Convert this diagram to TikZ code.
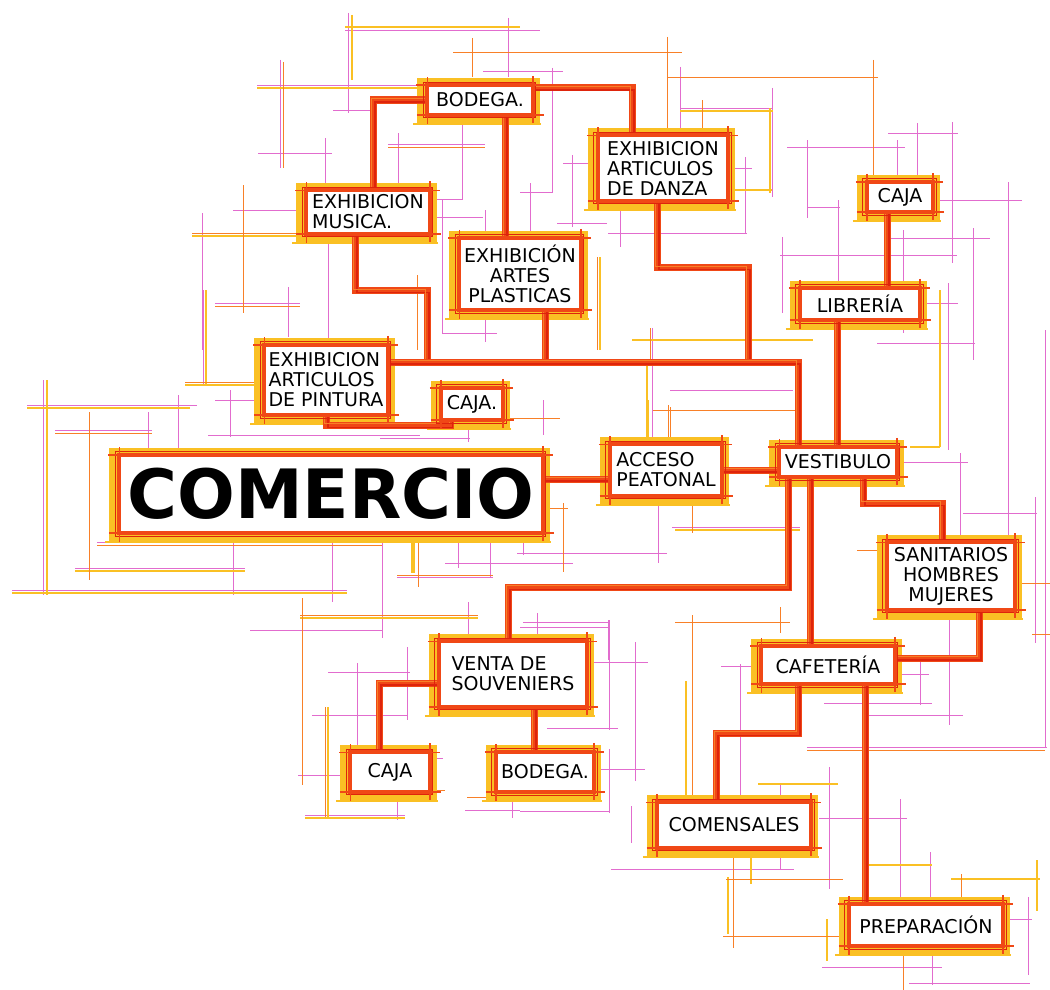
\documentclass[tikz,border=0pt]{standalone}
\usepackage{fontspec}
\newfontfamily\hand{DejaVu Sans}
\usetikzlibrary{calc}
\pgfdeclarelayer{bg}\pgfdeclarelayer{yl}\pgfdeclarelayer{cn}
\pgfsetlayers{bg,yl,cn,main}
\definecolor{ored}{RGB}{240,72,22}
\definecolor{dred}{RGB}{222,36,12}
\definecolor{orng}{RGB}{248,128,40}
\definecolor{yel}{RGB}{250,192,36}
\definecolor{pnk}{RGB}{226,108,206}
\newcommand\cnx[1]{\begin{pgfonlayer}{cn}
 \draw[ored,line width=7pt] #1;
 \draw[dred,line width=1.3pt,transform canvas={shift={(2pt,-2pt)}}] #1;
 \draw[orng,line width=1.1pt,transform canvas={shift={(-1.5pt,1.5pt)}}] #1;
 \end{pgfonlayer}}
\begin{document}
\begin{tikzpicture}[x=1pt,y=-1pt,
  pk/.style={draw=pnk,line width=0.8pt},
  yw/.style={draw=yel,line width=1.2pt},
  og/.style={draw=orng,line width=0.9pt},
  box/.style={fill=white,inner sep=2pt,text=black,font={\hand\fontsize{19}{20}\selectfont}}]
\useasboundingbox (0,0) rectangle (1050,990);
\begin{pgfonlayer}{bg}
\fill[white] (0,0) rectangle (1050,990);
\foreach \a/\b/\c/\d in {348/13/348/113, 345/30/540/30, 508/18/508/77, 483/71/563/71, 257/85/423/85, 280/60/280/168, 333/110/373/110, 258/153/332/153, 325/138/325/187, 388/144/485/144, 398/133/398/187, 462/110/462/200, 233/210/303/210, 202/213/202/350, 215/303/300/303, 288/287/288/337, 328/233/328/347, 432/217/483/217, 442/200/442/333, 442/333/497/333, 485/210/485/342, 427/199/463/199,
552/68/552/193, 520/192/552/192, 680/67/680/137, 680/108/773/108, 772/88/772/197, 720/168/752/168, 745/157/745/233, 608/233/747/233, 620/193/620/247, 563/163/603/163, 572/155/572/227, 557/223/607/223, 530/183/530/237, 787/147/905/147, 807/140/807/218, 807/207/840/207, 838/200/838/287, 888/133/958/133, 917/123/917/187, 952/122/952/263, 897/140/897/180, 937/200/1022/200, 1008/182/1008/577, 890/238/990/238, 780/255/957/255, 782/237/782/313, 973/228/973/360, 903/230/903/333, 913/303/958/303, 877/343/975/343, 948/283/948/450,
897/462/968/462, 960/453/960/540, 963/513/1037/513, 1035/497/1035/643, 1045/330/1045/747, 807/747/1047/747,
27/405/197/405, 43/380/43/595, 55/430/152/430, 148/412/148/452, 178/395/178/457, 203/290/203/385, 215/400/257/400, 230/390/230/437, 208/435/420/435, 97/542/382/542,
12/590/347/590, 75/568/245/568, 233/540/233/595, 332/537/332/602, 382/537/382/638, 250/630/383/630, 468/602/468/647, 328/672/410/672, 357/663/357/750, 407/647/407/720, 312/715/408/715, 298/775/350/775, 305/815/405/815, 397/792/397/820, 427/758/443/758, 465/810/520/810, 512/793/512/818, 445/563/493/563, 458/540/458/568,
397/577/493/577, 490/533/490/577, 445/563/573/563, 523/533/523/555, 517/553/667/553, 658/498/658/563, 672/527/800/527, 543/400/543/435, 380/438/470/438, 468/425/468/442, 537/613/537/640, 523/622/608/622, 608/620/608/660,
581/662/648/662, 609/620/609/730, 520/627/610/627, 635/642/635/781, 547/728/618/728, 601/769/645/769, 520/811/610/811, 609/749/609/813, 721/666/762/666, 740/664/740/850, 824/703/932/703, 868/715/963/715, 949/614/949/725, 920/657/920/705, 892/674/929/674, 611/869/794/869, 631/806/631/843, 780/784/780/870, 819/818/907/818, 900/799/900/912, 930/852/930/901, 909/983/1030/983, 1028/897/1028/975, 1006/919/1032/919, 932/948/932/985, 822/967/942/967, 829/767/829/889, 652/328/652/440, 670/390/793/390}
  {\draw[pk] (\a,\b) -- (\c,\d);}
\foreach \a/\b/\c/\d in {345/27/520/27, 257/88/423/88, 192/236/300/236, 680/111/773/111, 770/108/770/193, 727/190/772/190, 600/257/600/350, 632/340/813/340, 940/290/940/447, 910/447/940/447, 648/400/648/437, 27/408/190/408, 47/380/47/595, 185/385/257/385, 206/290/206/385, 12/593/347/593, 75/571/245/571, 300/618/478/618, 328/707/328/817, 305/818/405/818, 675/530/800/530, 686/681/686/803, 728/877/728/934, 758/784/838/784, 751/843/751/884, 868/865/932/865, 951/879/1040/879, 1037/860/1037/911, 827/919/827/961, 647/363/647/440, 352/15/352/80}
  {\draw[yw] (\a,\b) -- (\c,\d);}
\foreach \a/\b/\c/\d in {453/52/682/52, 472/38/472/77, 283/62/283/168, 388/147/485/147, 192/233/303/233, 243/185/243/313, 215/306/300/306, 417/275/417/350, 667/37/667/137, 667/77/878/77, 873/60/873/187, 702/100/702/137, 597/257/597/350, 650/328/650/360, 653/410/800/410, 668/405/668/438, 502/418/560/418, 55/433/152/433, 185/382/257/382, 97/545/382/545, 300/615/478/615, 302/598/302/785, 325/707/325/817, 343/790/445/790, 397/575/493/575, 467/797/520/797, 418/540/418/587, 563/503/563/572, 530/508/568/508, 692/497/692/533, 675/622/790/622, 780/607/780/633, 692/615/692/801, 733/836/733/948, 726/879/843/879, 723/936/844/936, 961/874/961/901, 903/941/903/990, 807/750/1045/750, 1032/634/1050/634, 1015/583/1050/583, 857/550/900/550, 89/412/89/580, 670/407/670/440}
  {\draw[og] (\a,\b) -- (\c,\d);}
\draw[yel,line width=4pt] (413,540) -- (413,573);
\end{pgfonlayer}

% nodes
\node[box,minimum width=105pt,minimum height=29pt] (bodA) at (480,100) {BODEGA.};
\node[box,align=left,minimum width=130pt,minimum height=65pt] (danza) at (663,168) {EXHIBICION\\ARTICULOS\\DE DANZA};
\node[box,align=left,minimum width=123pt,minimum height=43pt] (musica) at (368,212) {EXHIBICION\\MUSICA.};
\node[box,align=center,minimum width=121pt,minimum height=72pt] (artes) at (520,274) {EXHIBICIÓN\\ARTES\\PLASTICAS};
\node[box,minimum width=66pt,minimum height=30pt] (cajaR) at (900,197) {CAJA};
\node[box,minimum width=120pt,minimum height=32pt] (libreria) at (860,304) {LIBRERÍA};
\node[box,align=left,minimum width=123pt,minimum height=70pt] (pintura) at (326,380) {EXHIBICION\\ARTICULOS\\DE PINTURA};
\node[box,minimum width=62pt,minimum height=32pt] (cajaM) at (472,404) {CAJA.};
\node[box,minimum width=423pt,minimum height=78pt,font={\hand\bfseries\fontsize{68}{68}\selectfont}] (comercio) at (331,494) {COMERCIO};
\node[box,align=left,minimum width=112pt,minimum height=51pt] (acceso) at (666,470) {ACCESO\\PEATONAL};
\node[box,minimum width=117pt,minimum height=30pt] (vestibulo) at (838,462) {VESTIBULO};
\node[box,align=center,minimum width=128pt,minimum height=67pt] (sanitarios) at (951,576) {SANITARIOS\\HOMBRES\\MUJERES};
\node[box,align=left,minimum width=148pt,minimum height=65pt] (venta) at (513,674) {VENTA DE\\SOUVENIERS};
\node[box,minimum width=133pt,minimum height=38pt] (cafeteria) at (828,665) {CAFETERÍA};
\node[box,minimum width=79pt,minimum height=39pt] (cajaL) at (390,772) {CAJA};
\node[box,minimum width=98pt,minimum height=40pt] (bodegaL) at (545,772) {BODEGA.};
\node[box,minimum width=154pt,minimum height=45pt] (comensales) at (734,825) {COMENSALES};
\node[box,minimum width=154pt,minimum height=42pt] (preparacion) at (926,925) {PREPARACIÓN};

% box borders
\foreach \n in {bodA,danza,musica,artes,cajaR,libreria,pintura,cajaM,comercio,acceso,vestibulo,sanitarios,venta,cafeteria,cajaL,bodegaL,comensales,preparacion}{
  \begin{pgfonlayer}{yl}
  \draw[yel,line width=8pt] ($(\n.south west)+(-6,4)$) rectangle ($(\n.north east)+(3,-3)$);
  \draw[yel,line width=2.2pt] ($(\n.south west)+(-14,9)$) -- ($(\n.south east)+(8,9)$);
  \draw[yel,line width=2.2pt] ($(\n.north west)+(-9,-6)$) -- ($(\n.south west)+(-9,10)$);
  \end{pgfonlayer}
  \draw[ored,line width=3.8pt] (\n.south west) rectangle (\n.north east);
  \draw[dred,line width=1.3pt] ($(\n.south west)+(-4,3)$) rectangle ($(\n.north east)+(3,-3)$);
  \draw[ored,line width=1.6pt] ($(\n.north west)+(-11,0)$) -- ($(\n.north east)+(10,0)$);
  \draw[ored,line width=1.6pt] ($(\n.south west)+(-10,0)$) -- ($(\n.south east)+(11,0)$);
  \draw[ored,line width=1.6pt] ($(\n.north west)+(0,-8)$) -- ($(\n.south west)+(0,9)$);
  \draw[ored,line width=1.6pt] ($(\n.north east)+(0,-9)$) -- ($(\n.south east)+(0,8)$);
}

% helper coordinates
\coordinate (bus) at (0,362);
\coordinate (j1) at (427,362);
\coordinate (j2) at (545,362);
\coordinate (j3) at (748,362);
\coordinate (busL) at (pintura.east |- bus);
\coordinate (p2) at ($(bodA.east)+(0,-12)$);
\coordinate (p3) at ($(bodA.south)+(25,0)$);
\coordinate (p4) at ($(musica.south)+(-13,0)$);
\coordinate (p5) at ($(artes.south)+(25,0)$);
\coordinate (p6) at ($(danza.south)+(-6,0)$);
\coordinate (p7) at ($(vestibulo.north)+(-40,0)$);
\coordinate (p8) at ($(cajaM.south west)+(10,0)$);
\coordinate (p9) at ($(comercio.east)+(0,-15)$);
\coordinate (p11) at ($(vestibulo.north)+(-1,0)$);
\coordinate (p12) at ($(cajaR.south)+(-13,0)$);
\coordinate (p13) at ($(vestibulo.south)+(-50,0)$);
\coordinate (p14) at ($(vestibulo.south)+(-28,0)$);
\coordinate (p15) at ($(vestibulo.south)+(25,0)$);
\coordinate (p16) at ($(sanitarios.south)+(28,0)$);
\coordinate (p17) at ($(venta.west)+(0,9)$);
\coordinate (p18) at ($(venta.south)+(21,0)$);
\coordinate (p19) at ($(cafeteria.south)+(-30,0)$);
\coordinate (p20) at ($(cafeteria.south)+(37,0)$);

% connectors
\cnx{(bodA.west) -| ($(musica.north)+(5,0)$)}
\cnx{(p2) -| ($(danza.north)+(-31,0)$)}
\cnx{(p3) -- (p3 |- artes.north)}
\cnx{(p4) -- ++(0,57) -| (j1)}
\cnx{(p5) -- (p5 |- j2)}
\cnx{(p6) -- ++(0,67) -| (j3)}
\cnx{(busL) -| (p7)}
\cnx{(pintura.south) |- ($(p8)+(0,5)$) -- (p8)}
\cnx{(p9) -- (p9 -| acceso.west)}
\cnx{(acceso.east) -- (acceso.east -| vestibulo.west)}
\cnx{(p11 |- libreria.south) -- (p11)}
\cnx{(p12) -- (p12 |- libreria.north)}
\cnx{(p13) -- ++(0,110) -| ($(venta.north)+(-5,0)$)}
\cnx{(p14) -- (p14 |- cafeteria.north)}
\cnx{(p15) -- ++(0,26) -| ($(sanitarios.north)+(-9,0)$)}
\cnx{(p16) |- ($(cafeteria.east)+(0,-7)$)}
\cnx{(p17) -| ($(cajaL.north)+(-11,0)$)}
\cnx{(p18) -- (p18 |- bodegaL.north)}
\cnx{(p19) -- ++(0,49) -| ($(comensales.north)+(-18,0)$)}
\cnx{(p20) -- (p20 |- preparacion.north)}
\end{tikzpicture}
\end{document}
